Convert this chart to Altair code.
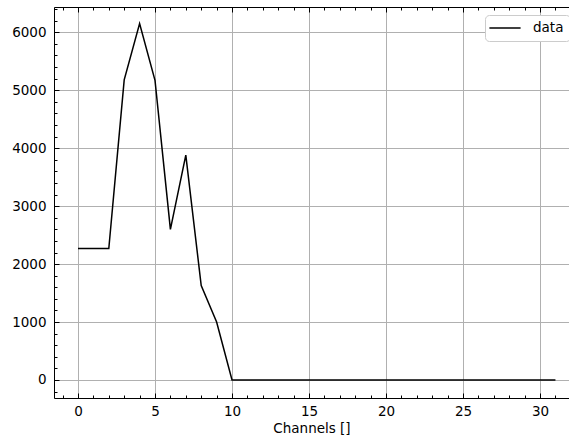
import altair as alt
import pandas as pd

channels = list(range(32))
counts = [2270, 2270, 2270, 5180, 6150, 5170, 2600, 3880, 1630, 1000,
          0, 0, 0, 0, 0, 0, 0, 0, 0, 0, 0,
          0, 0, 0, 0, 0, 0, 0, 0, 0, 0, 0]
series = ["data"] * 32

x_major = [0, 5, 10, 15, 20, 25, 30]
x_minor = list(range(-1, 32))
y_major = [0, 1000, 2000, 3000, 4000, 5000, 6000]
y_minor = list(range(-200, 6500, 200))

df = pd.DataFrame({"channel": channels, "counts": counts, "series": series})

W, H = 515, 391
FONT = "DejaVu Sans"
FS = 13.5
xs = alt.Scale(domain=[-1.558, 31.88], nice=False, zero=False)
ys = alt.Scale(domain=[-311, 6437], nice=False, zero=False)


def tick_axis(orient, values, size, offset, domain=False):
    return alt.Axis(orient=orient, values=values, labels=False, ticks=True,
                    tickSize=size, tickColor="#000000", tickWidth=1,
                    domain=domain, domainColor="#000000", domainWidth=1,
                    grid=False, title=None, offset=offset)


base = alt.Chart(df)

line = base.mark_line(strokeWidth=1.5).encode(
    x=alt.X("channel:Q", scale=xs,
            axis=alt.Axis(orient="bottom", values=x_major, format="d",
                          grid=True, gridColor="#b0b0b0", gridWidth=1,
                          ticks=False, tickSize=0, domain=True,
                          domainColor="#000000", domainWidth=1,
                          labelFontSize=FS, labelFont=FONT,
                          labelColor="#000000", labelPadding=6,
                          title="Channels []", titleFontSize=FS,
                          titleFont=FONT, titleFontWeight="normal",
                          titleColor="#000000", titlePadding=4)),
    y=alt.Y("counts:Q", scale=ys,
            axis=alt.Axis(orient="left", values=y_major, format="d",
                          grid=True, gridColor="#b0b0b0", gridWidth=1,
                          ticks=False, tickSize=0, domain=True,
                          domainColor="#000000", domainWidth=1,
                          labelFontSize=FS, labelFont=FONT,
                          labelColor="#000000", labelPadding=8,
                          title=None)),
    color=alt.Color("series:N", scale=alt.Scale(range=["#000000"]),
                    legend=alt.Legend(title=None, orient="none",
                                      legendX=431, legendY=8,
                                      symbolType="M-2.6,0H2.6",
                                      symbolSize=144,
                                      symbolStrokeWidth=1.5,
                                      symbolOffset=7,
                                      labelFontSize=FS, labelFont=FONT,
                                      labelColor="#000000", labelOffset=21,
                                      padding=6, fillColor="#ffffff",
                                      strokeColor="#cccccc", cornerRadius=4)),
)

ax2 = base.mark_point(opacity=0).encode(
    x=alt.X("channel:Q", scale=xs, axis=tick_axis("top", x_major, 5, -H)),
    y=alt.Y("counts:Q", scale=ys, axis=tick_axis("right", y_major, 5, -W)),
)
ax3 = base.mark_point(opacity=0).encode(
    x=alt.X("channel:Q", scale=xs, axis=tick_axis("top", x_minor, 3, -H)),
    y=alt.Y("counts:Q", scale=ys, axis=tick_axis("right", y_minor, 3, -W)),
)
ax4 = base.mark_point(opacity=0).encode(
    x=alt.X("channel:Q", scale=xs, axis=tick_axis("bottom", x_major, 5, -H, True)),
    y=alt.Y("counts:Q", scale=ys, axis=None),
)
ax5 = base.mark_point(opacity=0).encode(
    x=alt.X("channel:Q", scale=xs, axis=tick_axis("bottom", x_minor, 3, -H)),
    y=alt.Y("counts:Q", scale=ys, axis=None),
)

chart = alt.layer(line, ax2, ax3, ax4, ax5).resolve_axis(
    x="independent", y="independent"
).properties(
    width=W, height=H,
    autosize=alt.AutoSizeParams(type="none"),
    padding={"left": 54, "top": 7, "right": 0, "bottom": 41},
).configure_view(stroke=None).configure(background="#ffffff")

chart.save("out.html", embed_options={"renderer": "svg", "actions": False})
